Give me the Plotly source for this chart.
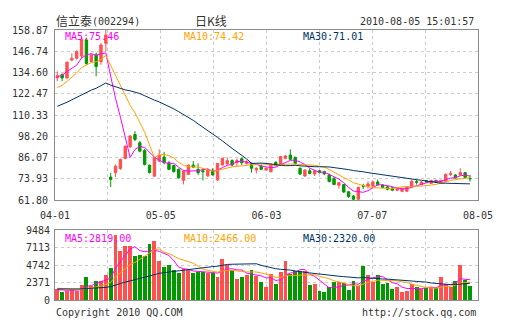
import plotly.graph_objects as go
from plotly.subplots import make_subplots

# ---------------- data ----------------
dates = ["04-01","04-02","04-06","04-07","04-08","04-09","04-12","04-13","04-14","04-15",
         "04-16","04-19","04-20","04-21","04-22","04-23","04-26","04-27","04-28","04-29",
         "04-30","05-04","05-05","05-06","05-07","05-10","05-11","05-12","05-13","05-14",
         "05-17","05-18","05-19","05-20","05-21","05-24","05-25","05-26","05-27","05-28",
         "05-31","06-01","06-02","06-03","06-04","06-07","06-08","06-09","06-10","06-11",
         "06-17","06-18","06-21","06-22","06-23","06-24","06-25","06-28","06-29","06-30",
         "07-01","07-02","07-05","07-06","07-07","07-08","07-09","07-12","07-13","07-14",
         "07-15","07-16","07-19","07-20","07-21","07-22","07-23","07-26","07-27","07-28",
         "07-29","07-30","08-02","08-03","08-04","08-05"]

opens = [131.5,133.4,131.5,141.7,142.7,144.0,153.2,140.8,144.6,140.8,
         151.3,74.9,77.4,79.8,85.5,92.2,99.2,94.5,90.1,81.7,
         75.4,84.0,86.3,83.1,81.5,79.3,73.0,76.4,81.7,79.3,
         78.5,75.5,78.9,73.2,81.8,82.4,84.3,83.1,85.4,82.7,
         82.7,79.0,81.2,79.0,78.0,83.3,81.8,85.6,87.5,86.2,
         79.9,75.5,78.5,76.7,78.5,78.0,76.1,74.0,70.2,70.6,
         66.5,64.1,62.2,70.0,69.7,69.8,72.1,70.3,69.3,68.7,
         67.4,66.8,66.8,69.3,72.2,70.6,72.9,71.3,73.0,71.8,
         72.5,76.4,76.1,76.1,77.4,74.1]
highs = [135.3,134.0,141.0,145.5,147.5,155.0,154.5,145.5,146.0,151.5,
         158.87,77.3,82.1,85.5,93.0,99.0,101.1,95.5,91.0,82.0,
         86.5,90.7,89.3,84.0,82.0,79.8,78.8,82.0,84.0,82.7,
         80.0,80.0,79.9,83.0,86.0,86.2,85.0,85.5,86.0,84.5,
         83.3,80.5,82.0,80.4,82.5,84.0,87.0,87.5,90.7,86.5,
         80.5,79.5,79.9,79.0,79.0,78.5,77.0,75.0,72.1,70.8,
         67.0,64.5,69.5,71.1,72.5,72.8,73.5,70.8,69.8,69.3,
         69.3,68.8,69.8,73.3,73.5,72.6,73.3,73.3,73.3,73.3,
         77.0,78.4,76.5,79.9,77.8,76.1]
lows = [129.6,129.6,131.0,141.0,142.0,142.5,139.0,140.5,132.5,139.0,
        146.5,69.2,74.9,79.0,85.0,91.5,95.4,89.0,81.5,77.0,
        75.0,83.5,82.1,79.0,77.5,74.0,70.7,76.0,80.0,76.1,
        72.9,75.0,75.8,72.8,81.5,82.0,81.0,81.2,81.8,82.0,
        77.4,77.0,78.8,78.5,77.5,81.0,81.5,85.0,84.5,82.0,
        76.0,75.0,76.5,75.5,77.0,76.0,72.0,70.3,68.3,65.8,
        63.0,61.8,61.8,67.9,68.3,69.3,69.8,68.6,67.3,66.8,
        66.8,66.3,66.3,68.8,70.6,70.3,71.5,71.0,71.5,71.5,
        72.0,75.5,74.5,75.8,74.2,72.3]
closes = [132.8,131.5,140.4,142.7,146.5,153.5,139.8,144.6,138.0,150.3,
          156.0,73.5,81.1,84.9,92.5,98.3,96.4,89.7,82.1,77.4,
          85.9,87.4,83.1,79.3,78.0,74.5,78.3,81.7,80.6,77.4,
          78.0,79.3,76.1,82.7,85.6,84.3,81.8,84.3,83.1,83.7,
          79.9,79.9,79.3,79.9,82.3,81.4,86.6,86.9,85.0,82.7,
          76.6,78.9,77.0,78.5,77.4,76.7,72.3,70.6,71.7,66.4,
          63.7,62.2,69.0,69.7,71.0,72.1,70.6,69.0,67.9,67.4,
          68.3,68.3,69.3,72.5,72.0,72.1,72.5,73.0,72.0,73.0,
          76.4,77.0,74.3,77.5,74.6,73.9]
volumes = [1435,1129,1264,1490,1264,2032,3161,1897,2619,2529,
           3387,4381,8806,6685,7316,7316,6007,6097,5962,7587,
           8039,5284,4516,4742,4065,3703,4200,4065,3613,3839,
           3839,3635,3703,3161,5555,4742,4065,2845,3161,3387,
           4065,3235,2484,1806,3523,2168,3748,5329,3523,3974,
           3974,3884,2032,2168,1264,1038,1716,2393,2393,2258,
           1400,2619,1942,4651,3432,2393,3387,2168,2303,1490,
           1716,1038,1264,2168,1716,1490,1625,1806,1625,3161,
           2168,1716,2619,4787,2709,1942]
# estimated March 2010 history (needed for the moving averages at the left edge)
mar_close = [100,102,101,104,103,106,105,107,108,108.3,
             110,112,113,115,114,116,117,119,118.7,120,
             118,119,121,120,122,126,130,134,137.2]
mar_vol = [1500,1300,1600,1200,1400,1700,1350,1250,1500,1650,
           1400,1300,1550,1450,1600,1350,1500,1400,1550,1450,
           1900,1700,2000,1600,1800,1500,1300,1400,1365]

price_tick_labels = ["61.80","73.93","86.07","98.20","110.33","122.47","134.60","146.74","158.87"]
vol_tick_labels = ["0","2371","4742","7113","9484"]
x_tick_labels = ["04-01","05-05","06-03","07-07","08-05"]
ma_periods = [5, 10, 30]
ma_price_last = [75.46, 74.42, 71.01]
ma_vol_last = [2819.00, 2466.00, 2320.00]

# ---------------- styles ----------------
RED = "#FF5050"
GREEN = "#009900"
MA_COLORS = ["#FF00FF", "#FFA200", "#003366"]
GRID = "#CCCCCC"
BORDER = "#8C8C8C"
TXT = "#333333"
MONO = "DejaVu Sans Mono, Liberation Mono, monospace"
CJK = "Noto Sans CJK SC, sans-serif"

W, H = 505, 330
L, R, T, B = 55, 24, 30, 30
PW, PH = W - L - R, H - T - B


def px_x(p):
    return (p - L) / PW


def px_y(p):
    return (H - B - p) / PH


def moving_avg(hist, vals, n):
    full = list(hist) + list(vals)
    off = len(hist)
    return [sum(full[off + i - n + 1: off + i + 1]) / n for i in range(len(vals))]


x = list(range(len(dates)))
x_lo, x_hi = -0.47, 86.65
p_lo = float(price_tick_labels[0]); p_hi = float(price_tick_labels[-1])
v_hi = float(vol_tick_labels[-1])
price_tickvals = [p_lo + k * (p_hi - p_lo) / (len(price_tick_labels) - 1) for k in range(len(price_tick_labels))]
vol_tickvals = [k * v_hi / (len(vol_tick_labels) - 1) for k in range(len(vol_tick_labels))]
n_grid = 2 * (len(x_tick_labels) - 1)
x_gridvals = [x_lo + k * (x_hi - x_lo) / n_grid for k in range(n_grid + 1)]
x_gridtext = []
for k in range(n_grid + 1):
    x_gridtext.append(x_tick_labels[k // 2] if k % 2 == 0 else "")

fig = make_subplots(rows=2, cols=1, shared_xaxes=True)

fig.add_trace(go.Candlestick(
    x=x, open=opens, high=highs, low=lows, close=closes,
    increasing=dict(line=dict(color=RED, width=1), fillcolor=RED),
    decreasing=dict(line=dict(color=GREEN, width=1), fillcolor=GREEN),
    whiskerwidth=0, showlegend=False, hoverinfo="skip"), row=1, col=1)

for n, c in zip(ma_periods, MA_COLORS):
    fig.add_trace(go.Scatter(x=x, y=moving_avg(mar_close, closes, n), mode="lines",
                             line=dict(color=c, width=1), showlegend=False, hoverinfo="skip"),
                  row=1, col=1)

bar_colors = [RED if c >= o else GREEN for o, c in zip(opens, closes)]
fig.add_trace(go.Bar(x=x, y=volumes, marker=dict(color=bar_colors, line=dict(width=0)),
                     width=0.8, showlegend=False, hoverinfo="skip"), row=2, col=1)
for n, c in zip(ma_periods, MA_COLORS):
    fig.add_trace(go.Scatter(x=x, y=moving_avg(mar_vol, volumes, n), mode="lines",
                             line=dict(color=c, width=1), showlegend=False, hoverinfo="skip"),
                  row=2, col=1)

axis_common = dict(showline=True, linecolor=BORDER, linewidth=1, mirror=True,
                   showgrid=True, gridcolor=GRID, griddash="3px,3px", gridwidth=1,
                   zeroline=False, ticks="", tickfont=dict(family=MONO, size=10, color=TXT))

fig.update_xaxes(range=[x_lo, x_hi], tickmode="array", tickvals=x_gridvals, **axis_common)
fig.update_xaxes(row=1, col=1, ticktext=x_gridtext, showticklabels=True,
                 rangeslider=dict(visible=False), ticklabelstandoff=6)
fig.update_xaxes(row=2, col=1, ticktext=[""] * len(x_gridvals), showticklabels=False)

fig.update_yaxes(row=1, col=1, range=[p_lo, p_hi], tickmode="array", tickvals=price_tickvals,
                 ticktext=price_tick_labels, domain=[px_y(200), 1.0], ticklabelstandoff=4, **axis_common)
fig.update_yaxes(row=2, col=1, range=[0, v_hi], tickmode="array", tickvals=vol_tickvals,
                 ticktext=vol_tick_labels, domain=[0.0, px_y(230)], ticklabelstandoff=2, **axis_common)

ann = []
def add_text(text, px, py, color=TXT, size=10, family=MONO, anchor="left"):
    ann.append(dict(text=text, x=px_x(px), y=px_y(py), xref="paper", yref="paper",
                    xanchor=anchor, yanchor="middle", showarrow=False,
                    font=dict(family=family, size=size, color=color)))

add_text("信立泰", 54, 21, size=12, family=CJK)
add_text("(002294)", 90, 22, size=10)
add_text("日K线", 212, 21, size=12, family=CJK, anchor="center")
add_text("2010-08-05 15:01:57", 479, 22, anchor="right")

ma_x = [63, 183, 303]
for i, n in enumerate(ma_periods):
    add_text("MA%d:%.2f" % (n, ma_price_last[i]), ma_x[i], 37, color=MA_COLORS[i])
    add_text("MA%d:%.2f" % (n, ma_vol_last[i]), ma_x[i], 238, color=MA_COLORS[i])

add_text("Copyright 2010 QQ.COM", 54, 312)
add_text("http://stock.qq.com", 481, 312, anchor="right")

fig.update_layout(width=W, height=H, margin=dict(l=L, r=R, t=T, b=B),
                  paper_bgcolor="white", plot_bgcolor="white", annotations=ann,
                  bargap=0, showlegend=False)

fig.write_html("out.html")
